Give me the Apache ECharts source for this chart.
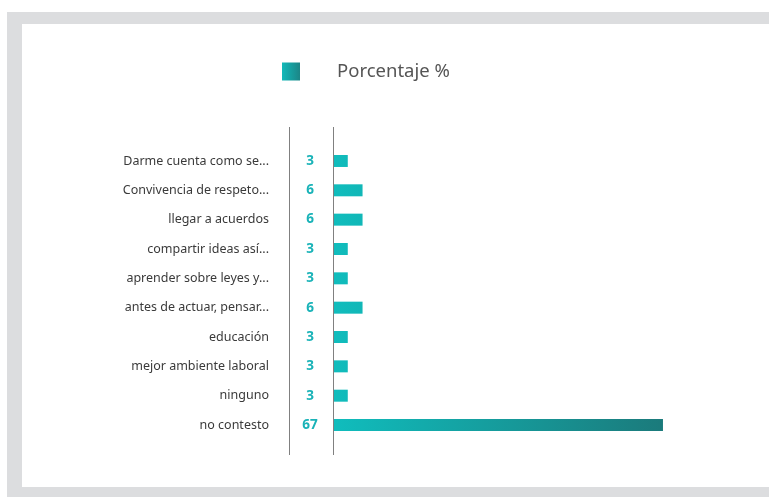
<!DOCTYPE html>
<html><head><meta charset="utf-8">
<script src="https://cdn.jsdelivr.net/npm/echarts@6/dist/echarts.min.js"></script>
<style>
html,body{margin:0;padding:0;background:#fff;}
#bg1{position:absolute;left:7px;top:12px;width:762px;height:485px;background:#dcdddf;}
#bg2{position:absolute;left:22px;top:24px;width:747px;height:463px;background:#fff;}
#chart{position:absolute;left:0;top:0;width:769px;height:497px;}
</style></head>
<body>
<div id="bg1"></div><div id="bg2"></div>
<div id="chart"></div>
<script>
var categories = ["Darme cuenta como se...","Convivencia de respeto...","llegar a acuerdos","compartir ideas así...","aprender sobre leyes y...","antes de actuar, pensar...","educación","mejor ambiente laboral","ninguno","no contesto"];
var values = [3,6,6,3,3,6,3,3,3,67];
var seriesName = "Porcentaje %";

var chart = echarts.init(document.getElementById('chart'));
var grad = new echarts.graphic.LinearGradient(0,0,1,0,[{offset:0,color:'#11b9b9'},{offset:1,color:'#1c8586'}]);
var barGrad = {type:'linear',x:333,y:0,x2:664,y2:0,global:true,colorStops:[{offset:0,color:'#10bdbd'},{offset:1,color:'#1b7a7b'}]};
chart.setOption({
  animation:false,
  legend:{left:282,top:62,padding:0,itemWidth:18,itemHeight:18,icon:'rect',
    data:[{name:seriesName,itemStyle:{color:grad}}],
    textStyle:{fontFamily:'Noto Sans',fontSize:18.5,color:'#555',padding:[0,0,0,32]}},
  grid:{left:333,top:146.3,width:394,bottom:57.3,containLabel:false},
  xAxis:{type:'value',min:0,max:80,show:false},
  yAxis:[
    {type:'category',data:categories,inverse:true,position:'left',
     axisLine:{show:false},axisTick:{show:false},
     axisLabel:{margin:23,align:'center',fontFamily:'Noto Sans',fontWeight:'bold',fontSize:13.5,color:'#1ab3b8',
       formatter:function(v,i){return String(values[i]);}}},
    {type:'category',data:categories,inverse:true,position:'left',offset:0,
     axisLine:{show:false},axisTick:{show:false},
     axisLabel:{margin:64,fontFamily:'Noto Sans',fontSize:12.5,color:'#3a3a3a'}}
  ],
  graphic:[
    {type:'line',shape:{x1:289.5,y1:127,x2:289.5,y2:455},style:{stroke:'#808080',lineWidth:1},z:10},
    {type:'line',shape:{x1:333.5,y1:127,x2:333.5,y2:455},style:{stroke:'#808080',lineWidth:1},z:10}
  ],
  series:[{name:seriesName,type:'bar',yAxisIndex:0,data:values,barWidth:12,
    itemStyle:{color:barGrad},label:{show:false}}]
});
</script>
</body></html>
